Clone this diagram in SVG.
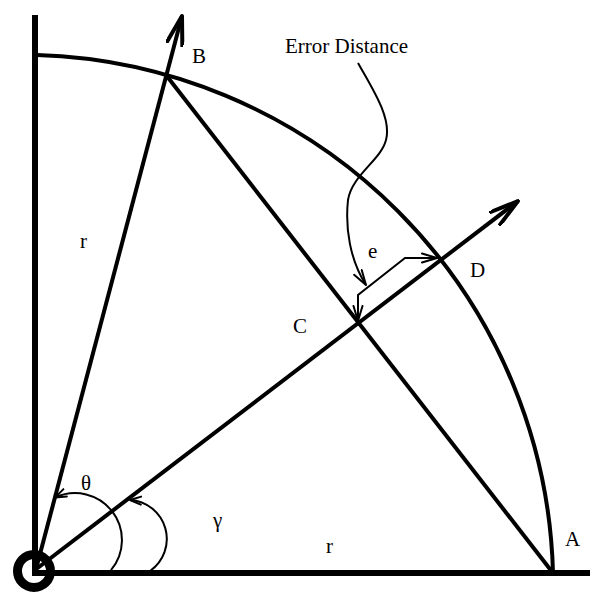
<svg xmlns="http://www.w3.org/2000/svg" width="590" height="592" viewBox="0 0 590 592">
<style>
.thick{fill:none;stroke:#000;stroke-width:4;stroke-linecap:butt}
.axis{fill:none;stroke:#000;stroke-width:6}
.thin{fill:none;stroke:#000;stroke-width:2}
text{font-family:"Liberation Serif","Times New Roman",serif;font-size:21px;fill:#000}
</style>
<defs>
<marker id="big" markerUnits="userSpaceOnUse" viewBox="0 0 32 18" refX="30" refY="9" markerWidth="32" markerHeight="18" orient="auto">
<path d="M1,1 L30,9 L1,17" fill="none" stroke="#000" stroke-width="4" stroke-linecap="round" stroke-linejoin="round"/>
</marker>
<marker id="sm" markerUnits="userSpaceOnUse" viewBox="0 0 18 12" refX="16" refY="6" markerWidth="18" markerHeight="12" orient="auto-start-reverse">
<path d="M1,1.5 L16,6 L1,10.5" fill="none" stroke="#000" stroke-width="2" stroke-linecap="round" stroke-linejoin="round"/>
</marker>
<marker id="tiny" markerUnits="userSpaceOnUse" viewBox="0 0 13 11" refX="12" refY="5.5" markerWidth="13" markerHeight="11" orient="auto-start-reverse">
<path d="M1,1.5 L12,5.5 L1,9.5" fill="none" stroke="#000" stroke-width="2" stroke-linecap="round" stroke-linejoin="round"/>
</marker>
</defs>
<g id="axes">
<line class="axis" x1="35" y1="15" x2="35" y2="576"/>
<line class="axis" x1="32" y1="573" x2="590" y2="573"/>
<circle cx="34" cy="571" r="16.5" fill="none" stroke="#000" stroke-width="9"/>
</g>
<g id="quarter-arc">
<path class="thick" d="M37,55 A532,532 0 0 1 553,573"/>
</g>
<g id="connectors">
<line class="thick" x1="35" y1="573" x2="182" y2="16" marker-end="url(#big)"/>
<line class="thick" x1="35" y1="570" x2="518" y2="201" marker-end="url(#big)"/>
<line class="thick" x1="166" y1="75" x2="553" y2="573"/>
<path class="thin" d="M358,321 L358,295 L405,258 L437,258" marker-start="url(#sm)" marker-end="url(#sm)"/>
<path class="thin" d="M358,63 C372,88 392,118 386,140 C381,160 352,175 348,200 C345,228 350,260 366,285" marker-end="url(#sm)"/>
<path class="thin" d="M55.2,497.4 A47,47 0 0 1 111,570.2" marker-start="url(#tiny)"/>
<path class="thin" d="M130,500 A39,39 0 0 1 150,571" marker-start="url(#tiny)"/>
</g>
<g id="labels">
<text x="192" y="63">B</text>
<text x="285" y="53">Error Distance</text>
<text x="368" y="258">e</text>
<text x="470" y="277">D</text>
<text x="293" y="333">C</text>
<text x="565" y="546">A</text>
<text x="80" y="248">r</text>
<text x="326" y="553">r</text>
<text x="81" y="490">θ</text>
<text x="213" y="527">γ</text>
</g>
</svg>
